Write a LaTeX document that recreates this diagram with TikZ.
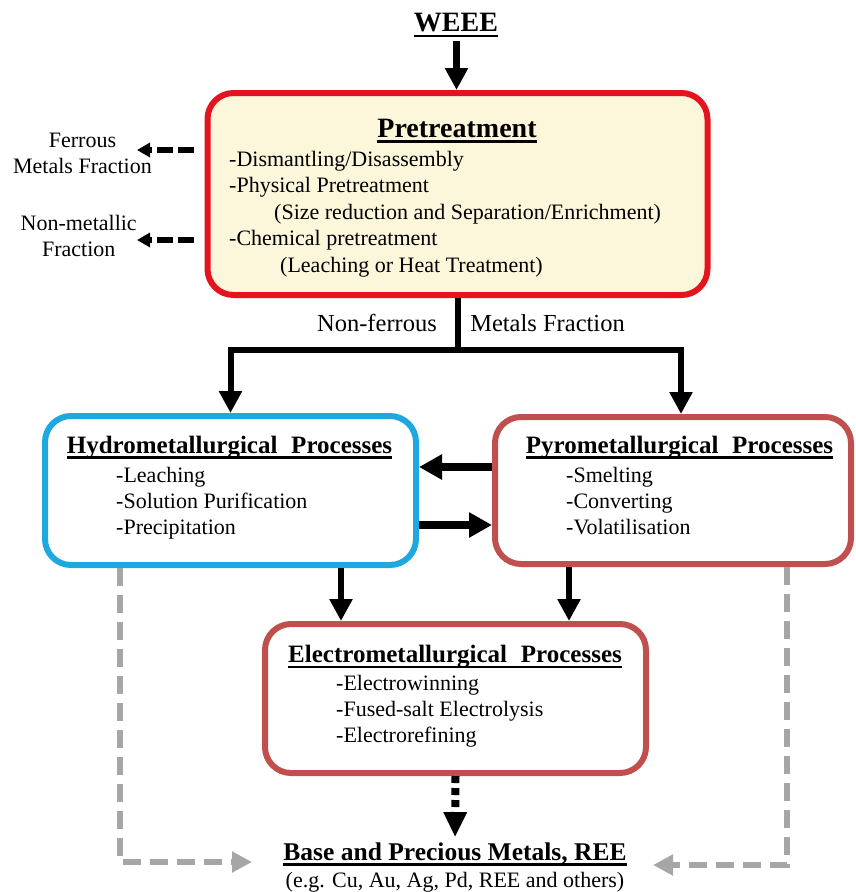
\documentclass[tikz,border=0pt]{standalone}
\usepackage{fontspec}
\setmainfont{Liberation Serif}
\usetikzlibrary{arrows.meta}
\definecolor{prered}{HTML}{E5131D}
\definecolor{prefill}{HTML}{FCF6DA}
\definecolor{hydroblue}{HTML}{1FA8E0}
\definecolor{pyrored}{HTML}{C0504D}
\definecolor{dashgray}{HTML}{A6A6A6}
\newcommand{\myul}[1]{\setbox0\hbox{#1}\rlap{\rule[-5.5pt]{\wd0}{2.2pt}}\box0}
\begin{document}
\begin{tikzpicture}[x=1pt,y=-1pt,
  box/.style={draw, rounded corners=26pt, line width=6pt, inner sep=0pt},
  txt/.style={inner sep=0pt, font=\fontsize{22}{26}\selectfont},
  lbl/.style={inner sep=0pt, font=\fontsize{24.5}{28}\selectfont},
  hd/.style={inner sep=0pt, font=\fontsize{25}{30}\selectfont\bfseries},
  bighd/.style={inner sep=0pt, font=\fontsize{28}{32}\selectfont\bfseries},
  conn/.style={line width=6pt, -{Triangle[length=22pt,width=22pt]}},
  conn2/.style={line width=8pt, -{Triangle[length=23pt,width=24pt]}},
  blkdash/.style={line width=6pt, dash pattern=on 16pt off 5pt, -{Triangle[length=13pt,width=14pt]}},
  dotarr/.style={line width=8pt, dash pattern=on 7pt off 5pt, -{Triangle[length=25pt,width=22pt]}},
  graydash/.style={draw=dashgray, line width=6pt, dash pattern=on 18pt off 9pt, -{Triangle[length=20pt,width=20pt]}}]
\useasboundingbox (0,0) rectangle (856,892);
% boxes
\node[box, draw=prered, fill=prefill, minimum width=500pt, minimum height=202pt] (pre) at (457.5,194) {};
\node[box, draw=hydroblue, fill=white, minimum width=371pt, minimum height=149pt] (hydro) at (230.5,490.5) {};
\node[box, draw=pyrored, fill=white, minimum width=356pt, minimum height=147pt] (pyro) at (673,490.5) {};
\node[box, draw=pyrored, fill=white, minimum width=381pt, minimum height=149pt] (electro) at (455.5,698.5) {};
% texts
\node[bighd, anchor=base] (weee) at (456,31.5) {\myul{WEEE}};
\node[bighd, anchor=base] (pretitle) at (457,137) {\myul{Pretreatment}};
\node[txt, anchor=base west] (pre1) at (229,166) {-Dismantling/Disassembly};
\node[txt, anchor=base west] (pre2) at (229,192.5) {-Physical Pretreatment};
\node[txt, anchor=base west] (pre3) at (274,219) {(Size reduction and Separation/Enrichment)};
\node[txt, anchor=base west] (pre4) at (229,245.5) {-Chemical pretreatment};
\node[txt, anchor=base west] (pre5) at (280,272) {(Leaching or Heat Treatment)};
\node[txt, anchor=base] (fer1) at (82.5,147.7) {Ferrous};
\node[txt, anchor=base] (fer2) at (82.5,173) {Metals Fraction};
\node[txt, anchor=base] (nm1) at (78.7,230.7) {Non-metallic};
\node[txt, anchor=base] (nm2) at (78.7,256.7) {Fraction};
\node[lbl, anchor=base] (nf1) at (377,331.7) {Non-ferrous};
\node[lbl, anchor=base] (nf2) at (547.5,331.7) {Metals Fraction};
\node[hd, anchor=base] (hydrot) at (229.5,453) {\myul{Hydrometallurgical\hspace{0.55em}Processes}};
\node[txt, anchor=base west] (hy1) at (116,482) {-Leaching};
\node[txt, anchor=base west] (hy2) at (116,508) {-Solution Purification};
\node[txt, anchor=base west] (hy3) at (116,534) {-Precipitation};
\node[hd, anchor=base] (pyrot) at (679.5,453) {\myul{Pyrometallurgical\hspace{0.55em}Processes}};
\node[txt, anchor=base west] (py1) at (566,482) {-Smelting};
\node[txt, anchor=base west] (py2) at (566,508) {-Converting};
\node[txt, anchor=base west] (py3) at (566,534) {-Volatilisation};
\node[hd, anchor=base] (electrot) at (455,662.5) {\myul{Electrometallurgical\hspace{0.55em}Processes}};
\node[txt, anchor=base west] (el1) at (336,690) {-Electrowinning};
\node[txt, anchor=base west] (el2) at (336,716) {-Fused-salt Electrolysis};
\node[txt, anchor=base west] (el3) at (336,742) {-Electrorefining};
\node[hd, font=\fontsize{25.5}{30}\selectfont\bfseries, anchor=base] (basehd) at (455,860) {\myul{Base and Precious Metals, REE}};
\node[txt, anchor=base] (baseeg) at (455,887.5) {(e.g. Cu, Au, Ag, Pd, REE and others)};
% coordinates
\coordinate (junc) at (457.5,350);
\coordinate (wx) at (456.5,0);
\coordinate (hx) at (341,0);
\coordinate (px) at (569,0);
\coordinate (fe) at (137,150);
\coordinate (nm) at (137,240);
\coordinate (glc) at (120,862);
\coordinate (gl) at (252,862);
\coordinate (grc) at (787,865);
\coordinate (gr) at (653,865);
% connectors
\draw[conn, line width=7pt, shorten <=4pt] (weee.south -| wx) -- (pre.north -| wx);
\draw[line width=6pt] (pre.south) -- (junc);
\draw[conn] (junc) -| (hydro.north);
\draw[conn] (junc) -| ([xshift=8pt]pyro.north);
\draw[conn2] ([yshift=23.5pt]pyro.west) -- ([yshift=23.5pt]hydro.east);
\draw[conn2] ([yshift=-34.5pt]hydro.east) -- ([yshift=-34.5pt]pyro.west);
\draw[conn] (hydro.south -| hx) -- (electro.north -| hx);
\draw[conn] (pyro.south -| px) -- (electro.north -| px);
\draw[dotarr, shorten >=5pt] (electro.south) -- (basehd.north);
\draw[blkdash, shorten <=11pt] (pre.west |- fe) -- (fe);
\draw[blkdash, shorten <=11pt] (pre.west |- nm) -- (nm);
\draw[graydash] (hydro.south -| glc) -- (glc) -- (gl);
\draw[graydash] (pyro.south -| grc) -- (grc) -- (gr);
\end{tikzpicture}
\end{document}
